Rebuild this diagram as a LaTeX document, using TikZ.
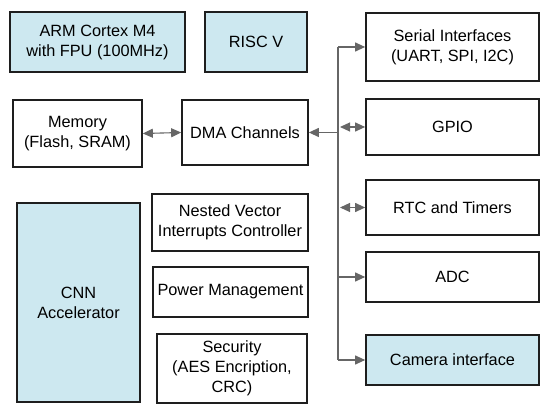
\documentclass[tikz,border=0pt]{standalone}
\usepackage{fontspec}
\setmainfont{Liberation Sans}
\usetikzlibrary{arrows.meta}
\definecolor{boxblue}{HTML}{CDE8F0}
\definecolor{edge}{HTML}{1E1E1E}
\definecolor{wire}{HTML}{666666}
\begin{document}
\begin{tikzpicture}[x=1pt,y=-1pt,
  blk/.style={draw=edge,line width=1.7pt,fill=white,align=center,inner sep=0pt,
    font=\fontsize{16.3}{20}\selectfont},
  blu/.style={blk,fill=boxblue},
  conn/.style={draw=wire,line width=1.1pt,-{Triangle[length=10pt,width=9pt]}},
  bid/.style={draw=wire,line width=1.1pt,{Triangle[length=10pt,width=9pt]}-{Triangle[length=10pt,width=9pt]}}]
\useasboundingbox (0,0) rectangle (550,414);
\node[blu,minimum width=175,minimum height=60] (arm) at (97.5,42) {ARM Cortex M4\\with FPU (100MHz)};
\node[blu,minimum width=102,minimum height=60] (risc) at (256,42) {RISC V};
\node[blk,minimum width=129,minimum height=67] (mem) at (77.5,133.5) {Memory\\(Flash, SRAM)};
\node[blk,minimum width=126,minimum height=65] (dma) at (245,132.5) {DMA Channels};
\node[blk,minimum width=173,minimum height=68] (ser) at (452.5,47) {Serial Interfaces\\(UART, SPI, I2C)};
\node[blk,minimum width=173,minimum height=56] (gpio) at (452.5,127) {GPIO};
\node[blk,minimum width=173,minimum height=55] (rtc) at (452.5,207.5) {RTC and Timers};
\node[blk,minimum width=173,minimum height=50] (adc) at (452.5,277) {ADC};
\node[blu,minimum width=173,minimum height=50] (cam) at (452.5,360) {Camera interface};
\node[blu,minimum width=123,minimum height=199] (cnn) at (78.5,302.5) {CNN\\Accelerator};
\node[blk,minimum width=156,minimum height=57] (nvic) at (230,222.5) {Nested Vector\\Interrupts Controller};
\node[blk,minimum width=155,minimum height=50] (pwr) at (230.5,292) {Power Management};
\node[blk,minimum width=150,minimum height=69] (sec) at (232,368.5) {Security\\(AES Encription,\\CRC)};
\coordinate (top) at (338,47);
\coordinate (bot) at (338,360);
\coordinate (tap) at (338,132.5);
\coordinate (g0) at (340,127);
\coordinate (r0) at (340,207.5);
\draw[wire,line width=1.1pt] (top) -- (bot);
\draw[conn] (top) -- (ser.west);
\draw[conn] (tap) -- (dma.east);
\draw[conn] (338,277) -- (adc.west);
\draw[conn] (bot) -- (cam.west);
\draw[bid] (g0) -- (gpio.west);
\draw[bid] (r0) -- (rtc.west);
\draw[bid] (mem.east) -- (dma.west);
\end{tikzpicture}
\end{document}
